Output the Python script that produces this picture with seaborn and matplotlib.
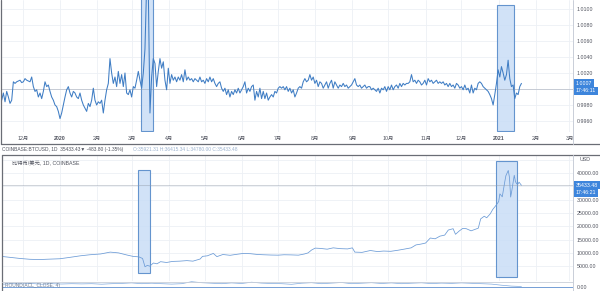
import numpy as np
import pandas as pd
import matplotlib
matplotlib.use("Agg")
import matplotlib.pyplot as plt
import matplotlib.transforms as mtransforms
from matplotlib.patches import Rectangle
from matplotlib.lines import Line2D
import seaborn as sns

# ---------------- data ----------------
top_first_date = "2019-11-13 12:00"
top_last_date = "2021-01-20"
top_values = [
    0.9986, 0.9995, 0.9984, 0.9997, 0.9990, 0.9982, 0.9986, 1.0009, 1.0007, 1.0009,
    1.0010, 1.0011, 1.0008, 1.0009, 1.0013, 1.0011, 1.0010, 1.0009, 1.0015, 1.0003,
    0.9997, 0.9999, 0.9990, 0.9995, 0.9988, 0.9997, 1.0009, 1.0003, 1.0005, 0.9997,
    0.9990, 0.9986, 0.9980, 0.9978, 0.9972, 0.9963, 0.9970, 0.9980, 0.9990, 0.9999,
    1.0003, 0.9995, 0.9990, 0.9997, 0.9995, 0.9990, 0.9988, 0.9995, 0.9986, 0.9980,
    0.9976, 0.9972, 0.9982, 0.9978, 0.9986, 1.0001, 0.9986, 0.9980, 0.9984, 0.9982,
    0.9986, 0.9970, 0.9986, 0.9999, 1.0007, 1.0038, 1.0020, 1.0007, 1.0015, 1.0003,
    1.0022, 1.0007, 1.0018, 1.0003, 1.0020, 0.9995, 0.9993, 0.9999, 0.9990, 1.0003,
    1.0001, 1.0011, 1.0022, 1.0011, 1.0001, 1.0020, 1.0050, 1.0130, 1.0125, 0.9970,
    1.0015, 1.0038, 1.0032, 1.0003, 1.0022, 1.0038, 1.0026, 1.0034, 1.0011, 0.9999,
    1.0026, 1.0007, 1.0018, 1.0011, 1.0015, 1.0009, 1.0015, 1.0011, 1.0018, 1.0009,
    1.0024, 1.0011, 1.0015, 1.0011, 1.0013, 1.0009, 1.0013, 1.0011, 1.0009, 1.0015,
    1.0009, 1.0011, 1.0007, 1.0013, 1.0009, 1.0015, 1.0009, 1.0013, 1.0007, 1.0003,
    1.0007, 1.0009, 1.0001, 0.9997, 1.0001, 0.9993, 0.9999, 0.9990, 0.9997, 0.9993,
    0.9999, 0.9995, 1.0001, 0.9995, 0.9999, 1.0003, 1.0009, 0.9995, 1.0001, 0.9997,
    1.0003, 1.0005, 0.9986, 0.9997, 0.9990, 1.0001, 0.9988, 0.9997, 0.9988, 0.9995,
    0.9986, 0.9990, 0.9993, 0.9990, 0.9997, 0.9995, 1.0001, 1.0003, 1.0001, 1.0003,
    0.9999, 1.0003, 0.9997, 1.0001, 0.9995, 0.9999, 0.9990, 0.9995, 1.0001, 1.0003,
    1.0001, 1.0009, 1.0013, 1.0009, 1.0011, 1.0018, 1.0011, 1.0015, 1.0007, 1.0011,
    1.0003, 1.0009, 1.0007, 1.0001, 1.0005, 1.0009, 1.0001, 1.0007, 1.0011, 1.0001,
    1.0009, 1.0005, 1.0001, 1.0005, 1.0003, 1.0007, 1.0003, 1.0005, 1.0001, 1.0003,
    1.0005, 1.0009, 1.0013, 1.0005, 1.0003, 1.0005, 1.0001, 1.0003, 1.0005, 1.0001,
    1.0003, 1.0003, 0.9999, 1.0001, 0.9999, 0.9997, 1.0001, 0.9995, 1.0001, 0.9999,
    1.0003, 0.9997, 1.0003, 0.9999, 1.0005, 0.9999, 1.0003, 1.0005, 1.0001, 1.0007,
    1.0003, 1.0007, 1.0005, 1.0007, 1.0007, 1.0009, 1.0018, 1.0009, 1.0011, 1.0007,
    1.0011, 1.0009, 1.0005, 1.0007, 1.0011, 1.0005, 1.0013, 1.0009, 1.0011, 1.0007,
    1.0009, 1.0011, 1.0007, 1.0009, 1.0007, 1.0009, 1.0005, 1.0007, 1.0003, 1.0007,
    1.0003, 1.0005, 1.0001, 1.0007, 1.0005, 1.0001, 1.0003, 0.9999, 1.0005, 0.9999,
    1.0001, 0.9995, 1.0005, 0.9995, 1.0001, 0.9999, 1.0007, 1.0009, 1.0007, 1.0003,
    1.0001, 0.9999, 0.9997, 0.9993, 0.9988, 0.9980, 0.9993, 1.0007, 1.0024, 1.0015,
    1.0028, 1.0020, 1.0011, 1.0018, 1.0036, 1.0013, 1.0003, 1.0005, 0.9988, 0.9995,
    0.9993, 1.0003, 1.0007,
]
top_peg_value = 1.0000
top_last_label = "1.0007"
top_time_label = "17:46:11"
top_yticks = [0.9960, 0.9980, 1.0020, 1.0040, 1.0060, 1.0080, 1.0100]
top_grid_y = [0.9960, 0.9980, 1.0000, 1.0020, 1.0040, 1.0060, 1.0080, 1.0100]

btc_dates = [
    "2019-11-13", "2019-11-20", "2019-11-29", "2019-12-07", "2019-12-15", "2019-12-23",
    "2020-01-01", "2020-01-09", "2020-01-18", "2020-01-26", "2020-02-04", "2020-02-12",
    "2020-02-19", "2020-02-26", "2020-03-02", "2020-03-07", "2020-03-10", "2020-03-12",
    "2020-03-14", "2020-03-16", "2020-03-19", "2020-03-22", "2020-03-25", "2020-03-30",
    "2020-04-04", "2020-04-10", "2020-04-16", "2020-04-21", "2020-04-27", "2020-04-29",
    "2020-05-03", "2020-05-08", "2020-05-11", "2020-05-16", "2020-05-22", "2020-05-28",
    "2020-06-02", "2020-06-08", "2020-06-14", "2020-06-19", "2020-06-25", "2020-07-01",
    "2020-07-06", "2020-07-12", "2020-07-18", "2020-07-23", "2020-07-26", "2020-07-29",
    "2020-08-01", "2020-08-05", "2020-08-11", "2020-08-16", "2020-08-22", "2020-08-28",
    "2020-09-01", "2020-09-03", "2020-09-09", "2020-09-16", "2020-09-22", "2020-09-27",
    "2020-10-03", "2020-10-09", "2020-10-14", "2020-10-20", "2020-10-24", "2020-10-28",
    "2020-11-01", "2020-11-05", "2020-11-09", "2020-11-13", "2020-11-17", "2020-11-20",
    "2020-11-24", "2020-11-26", "2020-11-29", "2020-12-02", "2020-12-05", "2020-12-09",
    "2020-12-12", "2020-12-15", "2020-12-17", "2020-12-20", "2020-12-22", "2020-12-25",
    "2020-12-27", "2020-12-30", "2021-01-01", "2021-01-02", "2021-01-04", "2021-01-06",
    "2021-01-07", "2021-01-09", "2021-01-10", "2021-01-11", "2021-01-12", "2021-01-14",
    "2021-01-15", "2021-01-16", "2021-01-17", "2021-01-18", "2021-01-19", "2021-01-20",
]
btc_values = [
    8700, 8350, 7900, 7600, 7500, 7650,
    7800, 8300, 8900, 9300, 9600, 10300,
    10000, 9200, 8700, 8500, 7900, 4800,
    5300, 5000, 6200, 5900, 6700, 6400,
    6800, 6900, 7100, 6900, 7700, 8700,
    8900, 9800, 8600, 9400, 9100, 9500,
    9800, 9700, 9400, 9300, 9200, 9150,
    9300, 9250, 9150, 9600, 10000, 11100,
    11800, 11700, 11400, 11900, 11600, 11500,
    11900, 10300, 10200, 10900, 10500, 10700,
    10600, 11000, 11400, 11900, 13000, 13300,
    13700, 15600, 15300, 16300, 16700, 18600,
    19100, 17000, 18200, 19200, 19100, 18300,
    18800, 19300, 22800, 23800, 23200, 24700,
    26300, 28000, 29300, 32200, 31100, 36500,
    39000, 41000, 38400, 31000, 33500, 39200,
    36800, 36000, 35800, 36600, 36000, 35433,
]
btc_last_label = "35433.48"
btc_time_label = "17:46:21"
btc_yticks = [5000, 10000, 15000, 20000, 25000, 30000, 40000]
btc_grid_y = [5000, 10000, 15000, 20000, 25000, 30000, 35000, 40000, 45000]

ind_values = [2.5, 3.0, 2.8, 3.2, 2.5, 3.0, 2.7, 3.0, 2.8, 3.0, 2.5, 3.0, 3.3, 3.8,
              3.0, 3.5, 3.0, 2.6, 3.0, 5.0, 4.0, 3.5, 3.0, 3.8, 3.2, 4.5, 3.6, 3.2,
              3.0, 2.4, 3.5, 4.0, 3.0, 3.6, 4.2, 3.0, 3.5, 4.0, 3.2, 3.8, 3.0, 3.5,
              3.9, 3.1, 3.6, 3.3, 3.8, 3.4, 3.0, 2.6, 1.5, 0.6, 0.2]

month_ticks = ["2019-12-01", "2020-01-01", "2020-02-01", "2020-03-01", "2020-04-01",
               "2020-05-01", "2020-06-01", "2020-07-01", "2020-08-01", "2020-09-01",
               "2020-10-01", "2020-11-01", "2020-12-01", "2021-01-01", "2021-02-01",
               "2021-03-01"]
month_labels = ["12月", "2020", "2月", "3月", "4月", "5月", "6月", "7月", "8月", "9月",
                "10月", "11月", "12月", "2021", "2月", "3月"]

top_boxes = [("2020-03-08 16:00", "2020-03-18 16:00", 0.99475, 1.0125),
             ("2020-12-30 14:00", "2021-01-13 19:00", 0.99475, 1.0105)]
btc_boxes = [("2020-03-06 12:00", "2020-03-16 12:00", 2440, 41170),
             ("2020-12-29 17:00", "2021-01-16 05:00", 940, 44560)]

header_main = "COINBASE:BTCUSD, 1D  35433.43▼ -483.80 (-1.35%)"
header_ohlc = "O:35921.31 H:36415.34 L:34780.00 C:35433.48"
pane_title = "比特币/美元, 1D, COINBASE"
ind_title = "ROUND(ACL_CLOSE, 4)"

# ---------------- style ----------------
sns.set_theme(style="white")
plt.rcParams["font.family"] = ["Liberation Sans", "DejaVu Sans", "Noto Sans CJK SC"]

W, H = 600, 291
fig = plt.figure(figsize=(W / 100, H / 100), dpi=100)
fig.patch.set_facecolor("white")


def fr(x0, y0, x1, y1):
    return [x0 / W, 1 - y1 / H, (x1 - x0) / W, (y1 - y0) / H]


xlim = (pd.Timestamp("2019-11-13 18:00"), pd.Timestamp("2021-03-04"))
grid_c = "#edf0f5"
text_c = "#50535e"
line_top_c = "#3f7dc4"
line_bot_c = "#6a9ad6"
box_fc = "#c9ddf6"
box_ec = "#4d84c6"
label_bg = "#3d85dc"
fs = 3.8

ax_top = fig.add_axes(fr(2, 0, 573, 132))
ax_bot = fig.add_axes(fr(2, 155, 573, 281))
ax_ind = fig.add_axes(fr(2, 281, 573, 291))

month_dt = pd.to_datetime(month_ticks)

# ---- top panel ----
top_dates = pd.date_range(top_first_date, top_last_date, periods=len(top_values))
df_top = pd.DataFrame({"date": top_dates, "value": top_values})
for x0, x1, y0, y1 in top_boxes:
    d0, d1 = pd.Timestamp(x0), pd.Timestamp(x1)
    ax_top.add_patch(Rectangle((d0, y0), d1 - d0, y1 - y0, facecolor=box_fc,
                               edgecolor=box_ec, lw=0.8, alpha=0.85, zorder=1))
sns.lineplot(data=df_top, x="date", y="value", ax=ax_top, color=line_top_c,
             linewidth=0.75, zorder=3)
ax_top.set_xlim(*xlim)
ax_top.set_ylim(0.994625, 1.011125)
for d in month_dt:
    ax_top.axvline(d, color=grid_c, lw=0.6, zorder=0)
for v in top_grid_y:
    ax_top.axhline(v, color=grid_c, lw=0.6, zorder=0)
ax_top.axhline(top_peg_value, color="#9099a8", lw=0.6, ls=(0, (1.2, 1.2)), zorder=2)
ax_top.set_xticks(month_dt)
ax_top.set_xticklabels(month_labels)
ax_top.set_yticks(top_yticks)
ax_top.set_yticklabels([f"{v:.4f}" for v in top_yticks])
ax_top.yaxis.tick_right()
ax_top.tick_params(axis="y", length=0, pad=2.5, labelsize=fs, labelcolor=text_c)
ax_top.tick_params(axis="x", length=0, pad=3, labelsize=fs, labelcolor=text_c)
for lab in ax_top.get_xticklabels():
    if lab.get_text() in ("2020", "2021"):
        lab.set_fontweight("bold")
ax_top.set_xlabel("")
ax_top.set_ylabel("")
for s in ax_top.spines.values():
    s.set_visible(False)

blend_top = mtransforms.blended_transform_factory(ax_top.transAxes, ax_top.transData)
last_top = top_values[-1]
ax_top.annotate(top_last_label, xy=(1.0, last_top), xycoords=blend_top,
                xytext=(2.0, 0), textcoords="offset points", va="center", ha="left",
                fontsize=fs, color="white", annotation_clip=False,
                bbox=dict(boxstyle="square,pad=0.3", fc=label_bg, ec="none"))
ax_top.annotate(top_time_label, xy=(1.0, last_top), xycoords=blend_top,
                xytext=(2.0, -5.2), textcoords="offset points", va="center", ha="left",
                fontsize=fs, color="white", annotation_clip=False,
                bbox=dict(boxstyle="square,pad=0.3", fc=label_bg, ec="none"))

# ---- bottom panel ----
df_btc = pd.DataFrame({"date": pd.to_datetime(btc_dates), "price": btc_values})
for x0, x1, y0, y1 in btc_boxes:
    d0, d1 = pd.Timestamp(x0), pd.Timestamp(x1)
    ax_bot.add_patch(Rectangle((d0, y0), d1 - d0, y1 - y0, facecolor=box_fc,
                               edgecolor=box_ec, lw=0.8, alpha=0.85, zorder=1))
sns.lineplot(data=df_btc, x="date", y="price", ax=ax_bot, color=line_bot_c,
             linewidth=0.55, zorder=3)
ax_bot.set_xlim(*xlim)
ax_bot.set_ylim(-564, 46812)
for d in month_dt:
    ax_bot.axvline(d, color=grid_c, lw=0.6, zorder=0)
for v in btc_grid_y:
    ax_bot.axhline(v, color=grid_c, lw=0.6, zorder=0)
last_btc = btc_values[-1]
ax_bot.axhline(last_btc, color="#9099a8", lw=0.6, ls=(0, (1.2, 1.2)), zorder=2)
ax_bot.set_xticks([])
ax_bot.set_yticks(btc_yticks)
ax_bot.set_yticklabels([f"{v:.2f}" for v in btc_yticks])
ax_bot.yaxis.tick_right()
ax_bot.tick_params(axis="y", length=0, pad=2.5, labelsize=fs, labelcolor=text_c)
ax_bot.set_xlabel("")
ax_bot.set_ylabel("")
for s in ax_bot.spines.values():
    s.set_visible(False)
ax_bot.text(1.012, 45000, "USD", transform=mtransforms.blended_transform_factory(
    ax_bot.transAxes, ax_bot.transData), fontsize=fs, color=text_c, va="center",
    ha="left", clip_on=False)

blend_bot = mtransforms.blended_transform_factory(ax_bot.transAxes, ax_bot.transData)
ax_bot.annotate(btc_last_label, xy=(1.0, last_btc), xycoords=blend_bot,
                xytext=(2.0, 0), textcoords="offset points", va="center", ha="left",
                fontsize=fs, color="white", annotation_clip=False,
                bbox=dict(boxstyle="square,pad=0.3", fc=label_bg, ec="none"))
ax_bot.annotate(btc_time_label, xy=(1.0, last_btc), xycoords=blend_bot,
                xytext=(2.0, -5.2), textcoords="offset points", va="center", ha="left",
                fontsize=fs, color="white", annotation_clip=False,
                bbox=dict(boxstyle="square,pad=0.3", fc=label_bg, ec="none"))
ax_bot.text(0.017, 0.935, pane_title, transform=ax_bot.transAxes, fontsize=fs,
            color=text_c, va="center", ha="left")

# ---- indicator pane ----
ind_dates = pd.date_range(top_first_date, top_last_date, periods=len(ind_values))
df_ind = pd.DataFrame({"date": ind_dates, "v": ind_values})
sns.lineplot(data=df_ind, x="date", y="v", ax=ax_ind, color="#7fa9dd", linewidth=0.5)
ax_ind.axhline(0, color="#5e8fd0", lw=0.6)
ax_ind.set_xlim(*xlim)
ax_ind.set_ylim(-4.3, 5.7)
ax_ind.set_xticks([])
ax_ind.set_yticks([0])
ax_ind.set_yticklabels(["0.00"])
ax_ind.yaxis.tick_right()
ax_ind.tick_params(axis="y", length=0, pad=2.5, labelsize=fs, labelcolor=text_c)
ax_ind.set_xlabel("")
ax_ind.set_ylabel("")
for s in ax_ind.spines.values():
    s.set_visible(False)
ax_ind.text(0.005, 0.55, ind_title, transform=ax_ind.transAxes, fontsize=3.5,
            color="#6f7d93", va="center", ha="left")

# ---- header text ----
fig.text(2 / W, 1 - 150 / H, header_main, fontsize=3.5, color=text_c, va="center",
         ha="left")
fig.text(133 / W, 1 - 150 / H, header_ohlc, fontsize=3.5, color="#9db3cf",
         va="center", ha="left")

# ---- frame lines ----
def fline(x0, y0, x1, y1, color, lw):
    fig.add_artist(Line2D([x0 / W, x1 / W], [1 - y0 / H, 1 - y1 / H], color=color,
                          lw=lw, transform=fig.transFigure))

dark = "#6a6d75"
light = "#c9ced8"
fline(1, 0, 1, 144, dark, 0.9)
fline(1, 144, 600, 144, dark, 0.9)
fline(573, 0, 573, 144, light, 0.7)
fline(2, 155, 600, 155, dark, 0.9)
fline(2, 155, 2, 291, dark, 0.9)
fline(573, 155, 573, 291, light, 0.7)
fline(2, 281.5, 573, 281.5, light, 0.6)

fig.savefig("out.png", dpi=100)
